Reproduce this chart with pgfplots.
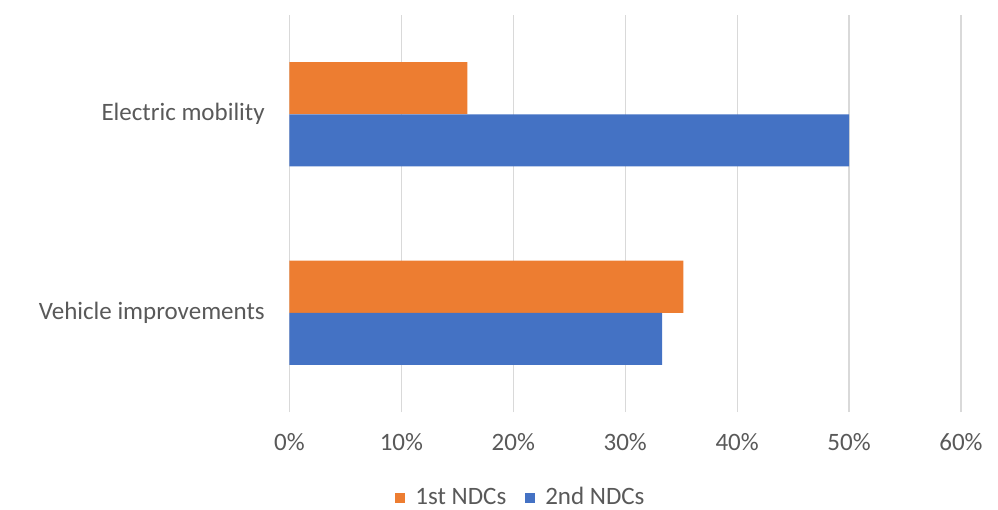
\documentclass[border=0pt]{standalone}
\usepackage{pgfplots}
\pgfplotsset{compat=1.18}
\usepackage{fontspec}
\setmainfont{Carlito}
\definecolor{ndcone}{HTML}{ED7D31}
\definecolor{ndctwo}{HTML}{4472C4}
\definecolor{txtgray}{HTML}{595959}
\definecolor{gridgray}{HTML}{D9D9D9}
\newcommand{\chartfont}{\fontsize{25bp}{30bp}\selectfont}

\begin{document}
\chartfont
\begin{tikzpicture}
\begin{axis}[
  at={(0,0)}, anchor=south west,
  width=671.5bp, height=397bp, scale only axis,
  xbar,
  xmin=0, xmax=60,
  ymin=-0.5, ymax=1.5,
  ytick={0,1},
  yticklabels={Vehicle improvements, Electric mobility},
  xtick={0,10,...,60},
  xticklabel={\pgfmathprintnumber{\tick}\%},
  axis line style={draw=none},
  tick style={draw=none},
  xmajorgrids,
  grid style={gridgray, line width=1.3bp},
  tick label style={text=txtgray, font=\chartfont},
  xticklabel style={yshift=-13bp},
  yticklabel style={xshift=-12bp},
  /pgf/number format/assume math mode=true,
  bar width=0.262,
  legend columns=2,
  legend style={
    at={(0.3455,-0.2166)}, anchor=center, draw=none, fill=none,
    text=txtgray, font=\chartfont,
    /tikz/every odd column/.append style={column sep=7bp},
    /tikz/every even column/.append style={column sep=16bp},
    nodes={inner xsep=3bp},
  },
  legend image code/.code={\fill[#1] (0bp,-5bp) rectangle (10bp,5bp);},
]
\addplot[fill=ndcone, draw=none, bar shift=0.131]
  coordinates {(35.2,0) (15.9,1)};
\addplot[fill=ndctwo, draw=none, bar shift=-0.131]
  coordinates {(33.3,0) (50,1)};
\legend{1st NDCs, 2nd NDCs}
\end{axis}
\pgfresetboundingbox
\path[use as bounding box] (-289.5bp,-98bp) rectangle (708.5bp,412bp);
\end{tikzpicture}
\end{document}
